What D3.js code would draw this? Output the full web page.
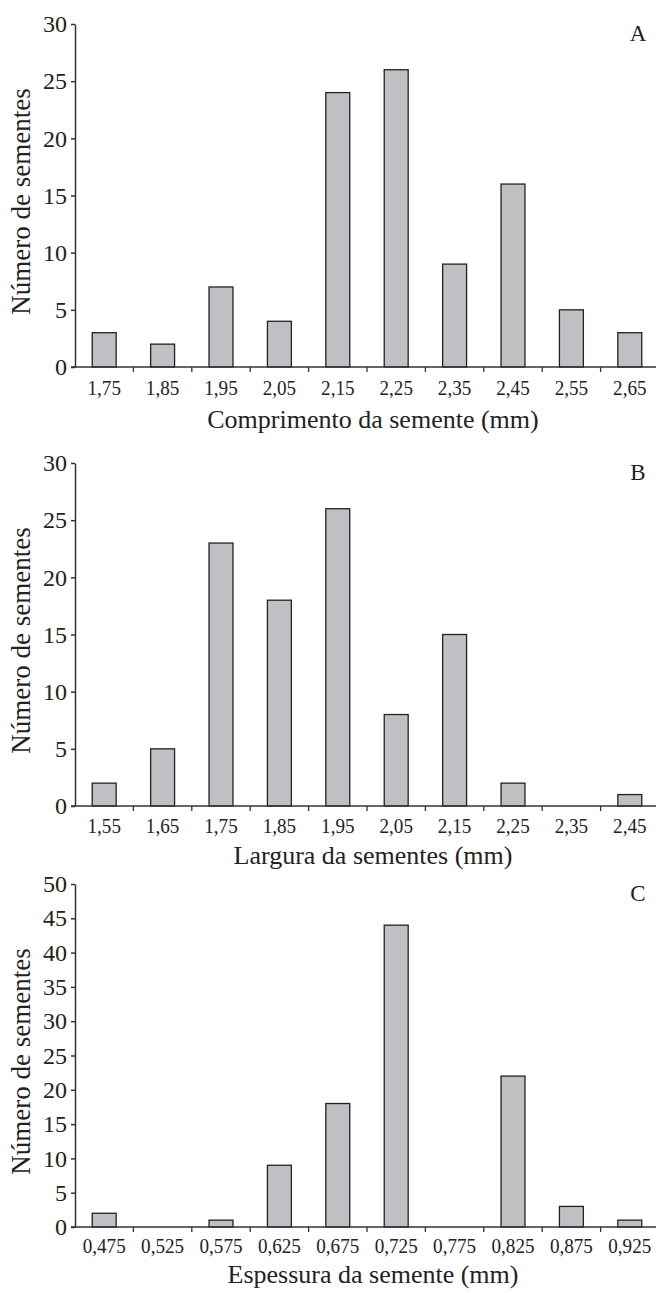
<!DOCTYPE html>
<html>
<head>
<meta charset="utf-8">
<script src="https://cdn.jsdelivr.net/npm/d3@7"></script>
<style>
  body { margin: 0; background: #fff; }
  text { font-family: "Liberation Serif", "Times New Roman", serif; fill: #222; }
</style>
</head>
<body>
<div class="canvas"></div>
<script>
// DATA
const comprimentoLabels = ['1,75', '1,85', '1,95', '2,05', '2,15', '2,25', '2,35', '2,45', '2,55', '2,65'];
const comprimentoValues = [3, 2, 7, 4, 24, 26, 9, 16, 5, 3];

const larguraLabels = ['1,55', '1,65', '1,75', '1,85', '1,95', '2,05', '2,15', '2,25', '2,35', '2,45'];
const larguraValues = [2, 5, 23, 18, 26, 8, 15, 2, 0, 1];

const espessuraLabels = ['0,475', '0,525', '0,575', '0,625', '0,675', '0,725', '0,775', '0,825', '0,875', '0,925'];
const espessuraValues = [2, 0, 1, 9, 18, 44, 0, 22, 3, 1];

const yTicksAB = [0, 5, 10, 15, 20, 25, 30];
const yTicksC = [0, 5, 10, 15, 20, 25, 30, 35, 40, 45, 50];

const panels = [
  { letter: 'A', labels: comprimentoLabels, values: comprimentoValues, ymax: 30, ticks: yTicksAB,
    title: 'Comprimento da semente (mm)', top: 24, bottom: 367, tickY: 28, titleY: 61 },
  { letter: 'B', labels: larguraLabels, values: larguraValues, ymax: 30, ticks: yTicksAB,
    title: 'Largura da sementes (mm)', top: 463, bottom: 806, tickY: 27, titleY: 58 },
  { letter: 'C', labels: espessuraLabels, values: espessuraValues, ymax: 50, ticks: yTicksC,
    title: 'Espessura da semente (mm)', top: 884, bottom: 1227, tickY: 26, titleY: 56 }
];

const dims = { width: 656, height: 1293, left: 75, right: 659 };

const svg = d3
  .select('.canvas')
  .append('svg')
  .attr('width', dims.width)
  .attr('height', dims.height);

panels.forEach((p) => {
  const g = svg.append('g');

  const x = d3
    .scaleBand()
    .domain(p.labels)
    .range([dims.left, dims.right])
    .paddingInner(0.59)
    .paddingOuter(0.295);

  // boundaries between categories
  const xb = d3.scaleBand().domain(p.labels).range([dims.left, dims.right]);

  const y = d3.scaleLinear().domain([0, p.ymax]).range([p.bottom, p.top]);

  // BARS
  g.selectAll('rect')
    .data(p.values)
    .enter()
    .append('rect')
    .attr('x', (d, i) => x(p.labels[i]))
    .attr('y', (d) => y(d))
    .attr('width', x.bandwidth())
    .attr('height', (d) => y(0) - y(d))
    .attr('fill', (d) => (d > 0 ? '#bfc0c4' : 'none'))
    .attr('stroke', (d) => (d > 0 ? '#222' : 'none'))
    .attr('stroke-width', 1.3);

  // Y AXIS
  const yAxis = d3
    .axisLeft(y)
    .tickValues(p.ticks)
    .tickSize(4)
    .tickPadding(4)
    .tickSizeOuter(0);

  const yg = g.append('g').attr('transform', `translate(${dims.left}, 0)`).call(yAxis);
  yg.selectAll('path, line').attr('stroke', '#333').attr('stroke-width', 1.5);
  yg.selectAll('text').attr('font-size', 24).attr('fill', '#222')
    .style('font-family', '"Liberation Serif", serif');

  // X AXIS LINE + BOUNDARY TICKS
  g.append('line')
    .attr('x1', dims.left - 4)
    .attr('x2', dims.right)
    .attr('y1', y(0))
    .attr('y2', y(0))
    .attr('stroke', '#333')
    .attr('stroke-width', 1.5);

  g.selectAll('.bt')
    .data(p.labels.slice(1))
    .enter()
    .append('line')
    .attr('class', 'bt')
    .attr('x1', (d) => xb(d))
    .attr('x2', (d) => xb(d))
    .attr('y1', y(0))
    .attr('y2', y(0) + 5)
    .attr('stroke', '#333')
    .attr('stroke-width', 1.3);

  // X LABELS (slightly condensed, like the original)
  g.selectAll('.xl')
    .data(p.labels)
    .enter()
    .append('text')
    .attr('class', 'xl')
    .attr('transform', (d) => `translate(${x(d) + x.bandwidth() / 2}, ${y(0) + p.tickY}) scale(0.87, 1)`)
    .attr('text-anchor', 'middle')
    .attr('font-size', 22)
    .text((d) => d);

  // X TITLE
  g.append('text')
    .attr('x', 373)
    .attr('y', y(0) + p.titleY)
    .attr('text-anchor', 'middle')
    .attr('font-size', 26)
    .text(p.title);

  // Y TITLE
  g.append('text')
    .attr('transform', `translate(30, ${(p.top + p.bottom) / 2 + 6}) rotate(-90)`)
    .attr('text-anchor', 'middle')
    .attr('font-size', 27)
    .text('Número de sementes');

  // PANEL LETTER
  g.append('text')
    .attr('x', 638)
    .attr('y', p.top + 17)
    .attr('text-anchor', 'middle')
    .attr('font-size', 23)
    .text(p.letter);
});
</script>
</body>
</html>
